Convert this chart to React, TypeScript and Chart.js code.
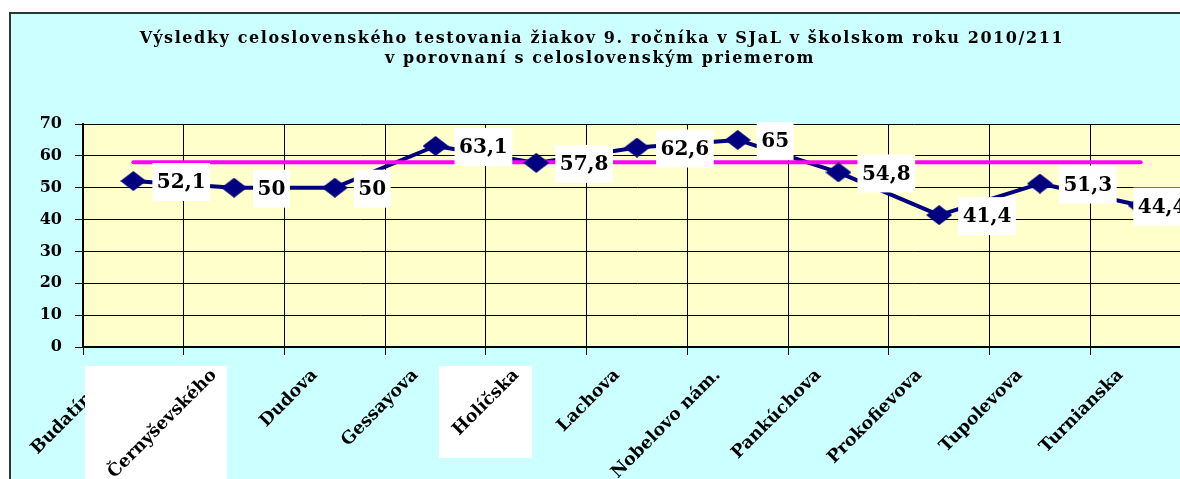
import React, { useEffect, useRef } from 'react';
import { Chart, registerables } from 'chart.js';

Chart.register(...registerables);

const titleLines: string[] = [
  'Výsledky celoslovenského testovania žiakov 9. ročníka v SJaL v školskom roku 2010/211',
  'v porovnaní s celoslovenským priemerom',
];

const schools: string[] = [
  'Budatínska',
  'Černyševského',
  'Dudova',
  'Gessayova',
  'Holíčska',
  'Lachova',
  'Nobelovo nám.',
  'Pankúchova',
  'Prokofievova',
  'Tupolevova',
  'Turnianska',
];

const schoolScores: number[] = [52.1, 50, 50, 63.1, 57.8, 62.6, 65, 54.8, 41.4, 51.3, 44.4];

const nationalAverage: number[] = [58, 58, 58, 58, 58, 58, 58, 58, 58, 58, 58];

const yMin = 0;
const yMax = 70;
const yStep = 10;

// labels that sit on a white patch in the original picture
const patchedLabels: number[] = [1, 4];

const NAVY = '#000080';
const PINK = '#FF00FF';
const SERIF = '"DejaVu Serif", "Liberation Serif", serif';

function makeDiamond(): HTMLCanvasElement {
  const c = document.createElement('canvas');
  c.width = 26;
  c.height = 20;
  const g = c.getContext('2d')!;
  g.fillStyle = NAVY;
  g.beginPath();
  g.moveTo(0, 10);
  g.lineTo(13, 0);
  g.lineTo(26, 10);
  g.lineTo(13, 20);
  g.closePath();
  g.fill();
  return c;
}

const decorPlugin = {
  id: 'decor',
  beforeDraw(chart: any) {
    const { ctx, chartArea: a } = chart;
    ctx.save();
    ctx.fillStyle = '#FFFFCC';
    ctx.fillRect(a.left, a.top, a.right - a.left, a.bottom - a.top);
    ctx.fillStyle = '#000';
    ctx.font = 'bold 16px ' + SERIF;
    ctx.textAlign = 'center';
    ctx.textBaseline = 'alphabetic';
    (ctx as any).letterSpacing = '1.6px';
    ctx.fillText(titleLines[0], 602, 43);
    ctx.fillText(titleLines[1], 600, 63);
    ctx.restore();
  },
  afterDatasetsDraw(chart: any) {
    const { ctx, chartArea: a } = chart;
    const meta = chart.getDatasetMeta(2);
    ctx.save();
    ctx.font = 'bold 20px ' + SERIF;
    ctx.textBaseline = 'middle';
    ctx.textAlign = 'left';
    meta.data.forEach((pt: any, i: number) => {
      const text = String(schoolScores[i]).replace('.', ',');
      const w = ctx.measureText(text).width + 9;
      const h = 38;
      let x = pt.x + 19;
      if (x + w > a.right) x = a.right - w;
      const yc = pt.y + 1;
      ctx.fillStyle = '#FFFFFF';
      ctx.fillRect(x, yc - h / 2, w, h);
      ctx.fillStyle = '#000';
      ctx.fillText(text, x + 4.5, yc + 1);
    });
    ctx.restore();
  },
  afterDraw(chart: any) {
    const { ctx } = chart;
    const xs = chart.scales.x;
    ctx.save();
    ctx.fillStyle = '#FFFFFF';
    ctx.fillRect(85, 366, 142, 130);
    ctx.fillRect(439, 366, 93, 92);
    const items = xs.getLabelItems ? xs.getLabelItems(chart.chartArea) : [];
    patchedLabels.forEach((idx) => {
      const it = items[idx];
      if (!it) return;
      const o = it.options;
      ctx.save();
      ctx.translate(o.translation[0], o.translation[1]);
      ctx.rotate(o.rotation);
      ctx.font = it.font.string;
      ctx.fillStyle = '#000';
      ctx.textAlign = o.textAlign;
      ctx.textBaseline = o.textBaseline;
      ctx.fillText(String(it.label), 0, it.textOffset);
      ctx.restore();
    });
    ctx.restore();
  },
};

export default function App() {
  const ref = useRef<HTMLCanvasElement | null>(null);

  useEffect(() => {
    if (!ref.current) return;
    const diamond = makeDiamond();
    const tickFont = { family: SERIF, weight: 'bold' as const, size: 16 };
    const xFont = { family: SERIF, weight: 'bold' as const, size: 17.5 };
    const chart = new Chart(ref.current, {
      type: 'line',
      data: {
        labels: schools,
        datasets: [
          {
            label: 'Škola',
            data: schoolScores,
            borderColor: NAVY,
            borderWidth: 4,
            pointRadius: 0,
            tension: 0,
            borderJoinStyle: 'round',
            order: 3,
          },
          {
            label: 'Celoslovenský priemer',
            data: nationalAverage,
            borderColor: PINK,
            borderWidth: 4,
            pointRadius: 0,
            borderCapStyle: 'round',
            tension: 0,
            order: 2,
          },
          {
            label: 'Škola body',
            data: schoolScores,
            showLine: false,
            pointStyle: diamond,
            pointRadius: 10,
            borderColor: NAVY,
            backgroundColor: NAVY,
            order: 1,
          },
        ],
      },
      options: {
        animation: false,
        responsive: false,
        devicePixelRatio: 1,
        layout: { padding: { left: 0, right: 69, top: 124, bottom: 0 } },
        plugins: {
          legend: { display: false },
          title: { display: false },
          tooltip: { enabled: false },
        },
        scales: {
          x: {
            type: 'category',
            offset: true,
            grid: { color: '#000', lineWidth: 1, offset: true, tickLength: 8, drawTicks: true },
            border: { color: '#000', width: 2 },
            ticks: {
              autoSkip: false,
              minRotation: 45,
              maxRotation: 45,
              labelOffset: -20,
              padding: 10,
              color: '#000',
              font: xFont,
            },
            afterFit: (s: any) => {
              s.height = 132;
            },
          },
          y: {
            min: yMin,
            max: yMax,
            ticks: { stepSize: yStep, padding: 13, color: '#000', font: tickFont },
            grid: { color: '#000', lineWidth: 1, tickLength: 8 },
            border: { color: '#000', width: 2 },
            afterFit: (s: any) => {
              s.width = 83;
            },
          },
        },
      },
      plugins: [decorPlugin],
    } as any);
    return () => chart.destroy();
  }, []);

  return (
    <div
      style={{
        position: 'fixed',
        left: 0,
        top: 0,
        width: 1180,
        height: 479,
        overflow: 'hidden',
        background: '#fff',
      }}
    >
      <div
        style={{
          position: 'absolute',
          left: 9,
          top: 12,
          width: 1171,
          height: 467,
          background: '#CCFFFF',
          borderTop: '2px solid #333',
          borderLeft: '2px solid #333',
          boxSizing: 'border-box',
        }}
      />
      <canvas
        ref={ref}
        width={1260}
        height={479}
        style={{ position: 'absolute', left: 0, top: 0, width: 1260, height: 479 }}
      />
    </div>
  );
}
